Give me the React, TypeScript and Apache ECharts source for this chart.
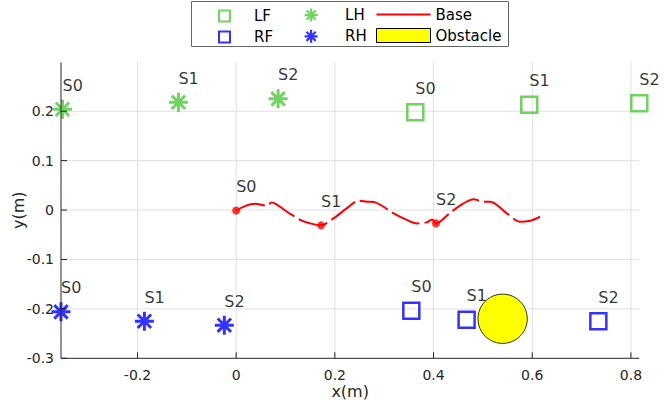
import React, { useEffect, useRef } from 'react';
import * as echarts from 'echarts';

const stepLabels = ['S0', 'S1', 'S2'];

const lfX = [0.363, 0.594, 0.817];
const lfY = [0.198, 0.213, 0.216];
const lhX = [-0.352, -0.117, 0.085];
const lhY = [0.204, 0.218, 0.225];
const rfX = [0.355, 0.467, 0.734];
const rfY = [-0.204, -0.222, -0.225];
const rhX = [-0.355, -0.186, -0.024];
const rhY = [-0.206, -0.225, -0.233];

const baseStepX = [0, 0.172, 0.405];
const baseStepY = [-0.001, -0.031, -0.027];

const baseX = [0, 0.018, 0.0385, 0.062, 0.072, 0.103, 0.133, 0.15, 0.1635, 0.172, 0.197, 0.224, 0.248, 0.265, 0.282, 0.319, 0.346, 0.366, 0.386, 0.397, 0.405, 0.4336, 0.4606, 0.481, 0.501, 0.515, 0.5485, 0.575, 0.596, 0.616];
const baseY = [-0.001, 0.008, 0.0128, 0.0088, 0.0155, -0.0034, -0.0216, -0.027, -0.03, -0.031, -0.017, 0.0034, 0.019, 0.017, 0.0155, -0.0067, -0.02, -0.027, -0.025, -0.019, -0.027, -0.0054, 0.0135, 0.022, 0.017, 0.017, -0.0067, -0.0236, -0.0216, -0.0135];

const obstacleX = [0.54];
const obstacleY = [-0.22];
const obstacleR = [0.05];

const xTicks = [-0.2, 0, 0.2, 0.4, 0.6, 0.8];
const yTicks = [-0.3, -0.2, -0.1, 0, 0.1, 0.2];
const xRange = [-0.355, 0.817];
const yRange = [-0.3, 0.299];

const GREEN = '#4dc838';
const BLUE = '#0000ff';
const RED = '#ff0000';
const YELLOW = '#ffff00';
const AXIS = '#262626';
const GRID = '#e0e0e0';
const FONT = 'DejaVu Sans';

const squareIcon = 'path://M0,0H10V10H0Z';
const asteriskIcon = 'path://M5,0V10M0,5H10M1.46,1.46L8.54,8.54M1.46,8.54L8.54,1.46';

const pts = (xs: number[], ys: number[]) =>
  xs.map((x, i) => ({ name: stepLabels[i], value: [x, ys[i]] }));

const tickFormatter = (ticks: number[]) => (v: number) =>
  ticks.some((t) => Math.abs(t - v) < 1e-6) ? String(Math.round(v * 10) / 10) : '';

const stepLabel = {
  show: true,
  position: 'inside',
  align: 'left',
  verticalAlign: 'middle',
  offset: [0, -24],
  color: '#000',
  fontSize: 16,
  fontFamily: FONT,
  formatter: (p: any) => p.name,
};

const legendBox = {
  type: 'rect',
  z: 0,
  shape: { x: 191.5, y: 1.5, width: 317, height: 45 },
  style: { fill: '#fff', stroke: '#666', lineWidth: 1 },
};

export default function App() {
  const ref = useRef<HTMLDivElement>(null);
  useEffect(() => {
    if (!ref.current) return;
    const chart = echarts.init(ref.current, undefined, { renderer: 'svg' });
    const legendText = { fontSize: 15, lineHeight: 15, color: '#000', fontFamily: FONT };
    const spacedText = (gap: number) => ({
      ...legendText,
      rich: {
        gap: { width: gap, fontSize: 15, lineHeight: 15 },
        t: { fontSize: 15, lineHeight: 15, color: '#000', fontFamily: FONT },
      },
    });
    const axisCommon = {
      type: 'value',
      nameLocation: 'middle',
      nameMoveOverlap: false,
      nameTextStyle: { fontSize: 16, color: AXIS, fontFamily: FONT },
      axisLine: { show: false, onZero: false },
      axisTick: { show: false },
      splitLine: { show: false },
      splitArea: { show: false },
      minorSplitLine: { show: false },
    };
    const option: any = {
      animation: false,
      graphic: [legendBox],
      legend: [
        {
          orient: 'vertical', left: 218, top: 8.5, padding: 0, itemGap: 6,
          itemWidth: 11, itemHeight: 11, selectedMode: false, textStyle: spacedText(19),
          formatter: (n: string) => `{gap|}{t|${n}}`,
          data: [
            { name: 'LF', icon: squareIcon, itemStyle: { color: 'transparent', borderColor: GREEN, borderWidth: 2 } },
            { name: 'RF', icon: squareIcon, itemStyle: { color: 'transparent', borderColor: BLUE, borderWidth: 2 } },
          ],
        },
        {
          orient: 'vertical', left: 303.5, top: 7.5, padding: 0, itemGap: 6,
          itemWidth: 13, itemHeight: 13, selectedMode: false, textStyle: spacedText(22.5),
          formatter: (n: string) => `{gap|}{t|${n}}`,
          data: [
            { name: 'LH', icon: asteriskIcon, itemStyle: { color: 'transparent', borderColor: GREEN, borderWidth: 2.2 } },
            { name: 'RH', icon: asteriskIcon, itemStyle: { color: 'transparent', borderColor: BLUE, borderWidth: 2.2 } },
          ],
        },
        {
          orient: 'vertical', left: 376, top: 7, padding: 0, itemGap: 6,
          itemWidth: 54, itemHeight: 14, selectedMode: false, textStyle: legendText,
          data: [
            { name: 'Base', icon: 'path://M0,0H54V2H0Z', itemStyle: { color: RED, borderWidth: 0 } },
            { name: 'Obstacle', icon: 'rect', itemStyle: { color: YELLOW, borderColor: '#000', borderWidth: 1 } },
          ],
        },
      ],
      grid: { show: false, left: 61, right: 24.7, top: 62.3, bottom: 51.7, containLabel: false, outerBoundsMode: 'none' },
      xAxis: {
        ...axisCommon,
        position: 'bottom',
        min: xRange[0],
        max: xRange[1],
        name: 'x(m)',
        nameGap: 25,
        axisLabel: { formatter: tickFormatter(xTicks), margin: 10, fontSize: 14, color: AXIS, fontFamily: FONT },
      },
      yAxis: {
        ...axisCommon,
        position: 'left',
        min: yRange[0],
        max: yRange[1],
        name: 'y(m)',
        nameGap: 35,
        axisLabel: { formatter: tickFormatter(yTicks), margin: 7, fontSize: 14, color: AXIS, fontFamily: FONT },
      },
      series: [
        {
          name: 'Obstacle',
          type: 'custom',
          z: 2,
          data: obstacleX.map((x, i) => [x, obstacleY[i], obstacleR[i]]),
          itemStyle: { color: YELLOW },
          renderItem: (params: any, api: any) => {
            const c = api.coord([api.value(0), api.value(1)]);
            const s = api.size([api.value(2), api.value(2)]);
            return {
              type: 'circle',
              shape: { cx: c[0], cy: c[1], r: s[0] },
              style: { fill: YELLOW, stroke: '#000', lineWidth: 0.8 },
            };
          },
        },
        {
          name: 'Base',
          type: 'line',
          z: 3,
          data: baseX.map((x, i) => [x, baseY[i]]),
          symbol: 'none',
          smooth: 0.3,
          itemStyle: { color: RED },
          lineStyle: { color: RED, width: 2, type: [30, 5] },
        },
        {
          name: 'BaseSteps',
          type: 'scatter',
          z: 4,
          data: pts(baseStepX, baseStepY),
          symbol: 'circle',
          symbolSize: 8,
          itemStyle: { color: RED },
          label: stepLabel,
        },
        {
          name: 'LF',
          type: 'scatter',
          z: 4,
          data: pts(lfX, lfY),
          symbol: squareIcon,
          symbolSize: 16,
          itemStyle: { color: 'transparent', borderColor: GREEN, borderWidth: 2.5 },
          label: stepLabel,
        },
        {
          name: 'RF',
          type: 'scatter',
          z: 4,
          data: pts(rfX, rfY),
          symbol: squareIcon,
          symbolSize: 16,
          itemStyle: { color: 'transparent', borderColor: BLUE, borderWidth: 2.5 },
          label: stepLabel,
        },
        {
          name: 'LH',
          type: 'scatter',
          z: 4,
          data: pts(lhX, lhY),
          symbol: asteriskIcon,
          symbolSize: 19,
          itemStyle: { color: 'transparent', borderColor: GREEN, borderWidth: 3 },
          label: stepLabel,
        },
        {
          name: 'RH',
          type: 'scatter',
          z: 4,
          data: pts(rhX, rhY),
          symbol: asteriskIcon,
          symbolSize: 19,
          itemStyle: { color: 'transparent', borderColor: BLUE, borderWidth: 3 },
          label: stepLabel,
        },
      ],
    };
    chart.setOption(option);

    // Grid lines, axis frame (left and bottom) and inward ticks, placed through the chart's own scales.
    const toPx = (x: number, y: number) => chart.convertToPixel({ gridIndex: 0 }, [x, y]) as number[];
    const o = toPx(xRange[0], yRange[0]);
    const yTop = toPx(xRange[0], yRange[1]);
    const xEnd = toPx(xRange[1], yRange[0]);
    const stroke = { stroke: AXIS, lineWidth: 1 };
    const gridStroke = { stroke: GRID, lineWidth: 1 };
    const gridLines: any[] = [
      ...xTicks.map((t) => {
        const p = toPx(t, yRange[0]);
        return { type: 'line', z: 1, silent: true, shape: { x1: p[0], y1: o[1], x2: p[0], y2: yTop[1] }, style: gridStroke };
      }),
      ...yTicks.filter((t) => t > yRange[0]).map((t) => {
        const p = toPx(xRange[0], t);
        return { type: 'line', z: 1, silent: true, shape: { x1: o[0], y1: p[1], x2: xEnd[0], y2: p[1] }, style: gridStroke };
      }),
    ];
    const frame: any[] = [
      { type: 'line', z: 50, silent: true, shape: { x1: o[0], y1: o[1], x2: yTop[0], y2: yTop[1] }, style: stroke },
      { type: 'line', z: 50, silent: true, shape: { x1: o[0], y1: o[1], x2: xEnd[0], y2: xEnd[1] }, style: stroke },
      ...xTicks.map((t) => {
        const p = toPx(t, yRange[0]);
        return { type: 'line', z: 50, silent: true, shape: { x1: p[0], y1: p[1], x2: p[0], y2: p[1] - 6 }, style: stroke };
      }),
      ...yTicks.map((t) => {
        const p = toPx(xRange[0], t);
        return { type: 'line', z: 50, silent: true, shape: { x1: p[0], y1: p[1], x2: p[0] + 6, y2: p[1] }, style: stroke };
      }),
    ];
    chart.setOption({ graphic: [legendBox, ...gridLines, ...frame] });
    return () => chart.dispose();
  }, []);
  return (
    <div
      ref={ref}
      style={{ position: 'absolute', left: 0, top: 0, width: 664, height: 410 }}
    />
  );
}
